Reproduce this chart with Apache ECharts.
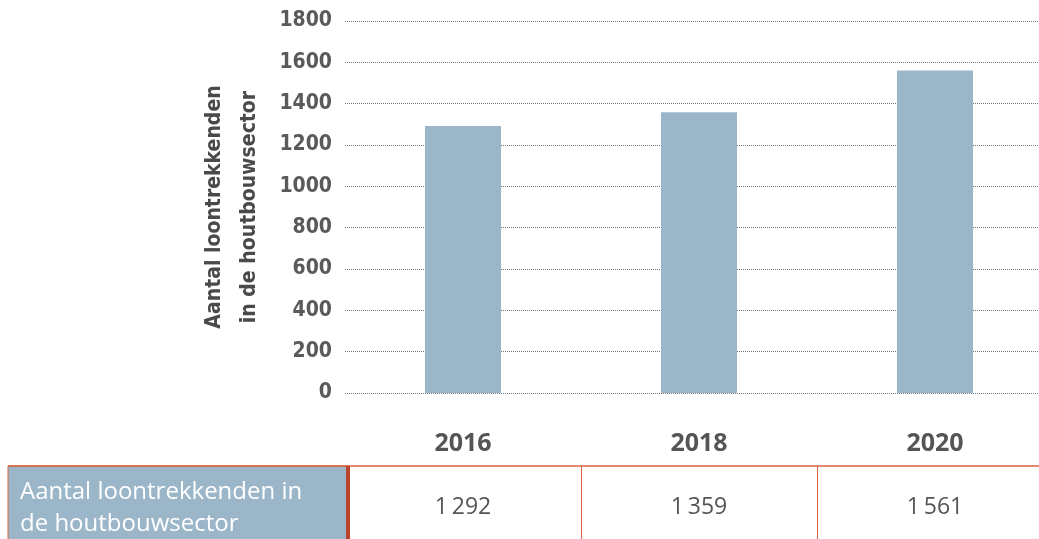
<!DOCTYPE html>
<html>
<head>
<meta charset="utf-8">
<script src="https://cdn.jsdelivr.net/npm/echarts@6/dist/echarts.min.js"></script>
<style>
html, body { margin: 0; padding: 0; background: #fff; }
#main { width: 1039px; height: 539px; }
</style>
</head>
<body>
<div id="main"></div>
<script>
var years = ['2016', '2018', '2020'];
var werknemers = [1292, 1359, 1561];
var yTicks = [0, 200, 400, 600, 800, 1000, 1200, 1400, 1600, 1800];
var axisTitle = ['Aantal loontrekkenden', 'in de houtbouwsector'];
var rowLabel = ['Aantal loontrekkenden in', 'de houtbouwsector'];

var barColor = '#9bb6c8';
var lineRed = '#d9643f';
var gridLeft = 345, gridTop = 21, gridBottom = 146, bandW = 236;

function fmt(v) {
	var s = String(v);
	return s.length > 3 ? s.slice(0, s.length - 3) + '\u2009' + s.slice(-3) : s;
}

var chart = echarts.init(document.getElementById('main'));
chart.setOption({
	animation: false,
	grid: {
		left: gridLeft, top: gridTop, bottom: gridBottom, width: bandW * years.length,
		outerBoundsMode: 'none', containLabel: false
	},
	xAxis: {
		type: 'category',
		data: years,
		axisLine: { show: false },
		axisTick: { show: false },
		axisLabel: {
			margin: 38,
			fontFamily: 'Open Sans',
			fontWeight: 'bold',
			fontSize: 25,
			color: '#555'
		}
	},
	yAxis: {
		type: 'value',
		min: yTicks[0],
		max: yTicks[yTicks.length - 1],
		interval: yTicks[1] - yTicks[0],
		name: axisTitle.join('\n'),
		nameLocation: 'middle',
		nameRotate: 90,
		nameGap: 78,
		nameTextStyle: {
			fontFamily: 'DejaVu Sans Condensed',
			fontWeight: 'bold',
			fontSize: 21,
			lineHeight: 35,
			color: '#4a4a4a'
		},
		axisLine: { show: false },
		axisTick: { show: false },
		axisLabel: {
			margin: 13,
			fontFamily: 'DejaVu Sans Condensed',
			fontWeight: 'bold',
			fontSize: 21,
			color: '#5a5a5a',
			formatter: function (v) { return String(v); }
		},
		splitLine: { lineStyle: { type: [1, 1], color: '#777', width: 1 } }
	},
	series: [{
		type: 'bar',
		data: werknemers,
		barWidth: 76,
		itemStyle: { color: barColor }
	}]
});

// table below the chart
var tableTop = 466;
var g = [];
g.push({ type: 'rect', shape: { x: 8, y: tableTop, width: 340, height: 539 - tableTop + 5 },
	style: { fill: barColor, stroke: lineRed, lineWidth: 1 } });
g.push({ type: 'line', shape: { x1: 8, y1: tableTop, x2: 1039, y2: tableTop },
	style: { stroke: lineRed, lineWidth: 1.5 } });
g.push({ type: 'line', shape: { x1: 348, y1: tableTop, x2: 348, y2: 539 },
	style: { stroke: '#b9432b', lineWidth: 4 } });
g.push({ type: 'text', x: 20, y: 476,
	style: { text: rowLabel.join('\n'), fill: '#fff', fontFamily: 'Open Sans', fontSize: 24, lineHeight: 32 } });
years.forEach(function (y, i) {
	var cx = chart.convertToPixel({ xAxisIndex: 0 }, y);
	if (i > 0) {
		var bx = Math.round(cx - bandW / 2) + 0.5;
		g.push({ type: 'line', shape: { x1: bx, y1: tableTop, x2: bx, y2: 539 },
			style: { stroke: lineRed, lineWidth: 1 } });
	}
	g.push({ type: 'text', x: cx, y: 507,
		style: { text: fmt(werknemers[i]), fill: '#555', fontFamily: 'Open Sans', fontSize: 23,
			align: 'center', verticalAlign: 'middle' } });
});
chart.setOption({ graphic: g });
</script>
</body>
</html>
